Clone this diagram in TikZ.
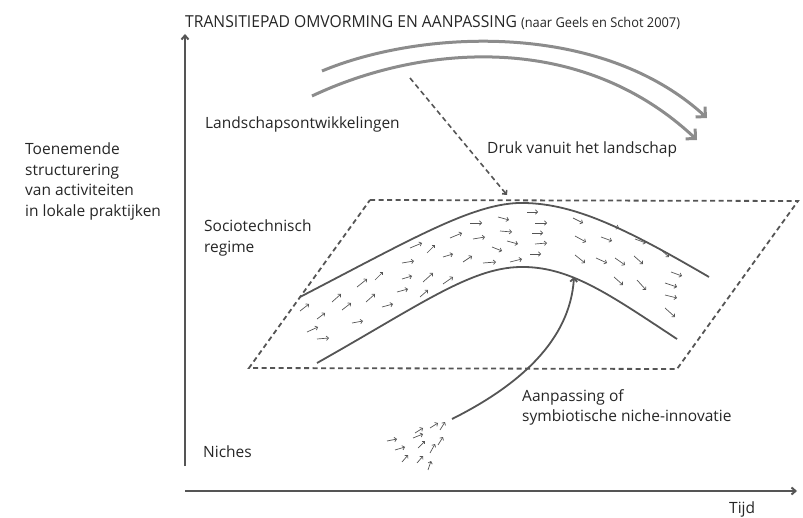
\documentclass[tikz,border=0pt]{standalone}
\usepackage{fontspec}
\setmainfont{Open Sans}
\newfontfamily\smalkop[FakeStretch=0.95]{Open Sans}
\usetikzlibrary{arrows.meta}
\definecolor{donker}{HTML}{555555}
\definecolor{grijs}{HTML}{8C8C8C}
\tikzset{
	as/.style={draw=donker, line width=2pt, -{Straight Barb[length=4pt,width=7pt]}},
	land/.style={draw=grijs, line width=3pt, -{Straight Barb[length=7pt,width=14pt]}},
	regimelijn/.style={draw=donker, line width=1.8pt},
	vlak/.style={draw=donker, line width=1.8pt, dash pattern=on 5pt off 3.5pt},
	pijltje/.style={draw=donker, line width=0.7pt, -{Straight Barb[length=2.2pt,width=4.4pt]}},
	tekst/.style={inner sep=0pt, text=black!85}
}
\begin{document}
\begin{tikzpicture}[x=1pt,y=-1pt,font=\fontsize{15.5}{20.5}\selectfont]
	\useasboundingbox (0,0) rectangle (803,518);
	
	%Titel
	\node[tekst,anchor=base west] (titel) at (185,28)
	{{\smalkop\fontsize{16.5}{18}\selectfont TRANSITIEPAD OMVORMING EN AANPASSING} {\smalkop\fontsize{13.5}{15}\selectfont(naar Geels en Schot 2007)}};
	
	%Assen
	\coordinate (ybodem) at (185,466);
	\coordinate (ytop) at (185,34);
	\coordinate (xbegin) at (185,491);
	\coordinate (xeind) at (797,491);
	\draw[as] (ybodem) -- (ytop);
	\draw[as] (xbegin) -- (xeind);
	\node[tekst,anchor=north west,align=left] (ylabel) at (25,143)
	{Toenemende\\structurering\\van activiteiten\\in lokale praktijken};
	\node[tekst,anchor=base west] (tijd) at (729,513) {Tijd};
	
	%Landschap
	\node[tekst,anchor=base west] (landschap) at (205,129) {Landschapsontwikkelingen};
	\node[tekst,anchor=base west] (druk) at (487,154) {Druk vanuit het landschap};
	\draw[land] (322,71) .. controls (420,30) and (600,20) .. (707,118);
	\draw[land] (312,96) .. controls (420,45) and (580,30) .. (697,140);
	\coordinate (drukbegin) at (410,78);
	\coordinate (drukeind) at (507,195);
	\draw[vlak,line width=1.6pt,-{Straight Barb[length=3pt,width=6pt]}] (drukbegin) -- (drukeind);
	
	%Regime
	\node[tekst,anchor=north west,align=left] (regime) at (204,220) {Sociotechnisch\\regime};
	\draw[vlak] (370,200) -- (798,201) -- (677,369) -- (249,368) -- cycle;
	\draw[regimelijn] (300,297) .. controls (410,240) and (470,205) .. (518,203)
	.. controls (570,202) and (620,225) .. (709,277);
	\draw[regimelijn] (317,363) .. controls (420,305) and (470,268) .. (520,267)
	.. controls (570,266) and (610,295) .. (677,339);
	\foreach \x/\y/\u/\v in {527/212/538/212, 470/223/482/223, 498/217/509/220, 535/223/547/223,
		500/231/512/232, 532/233/543/233, 450/238/462/233, 473/239/485/237, 507/241/518/244,
		535/244/547/243, 410/248/422/243, 427/253/435/245, 443/257/453/254, 492/247/502/251,
		530/254/541/254, 463/262/472/256, 483/263/496/262, 510/262/522/259, 402/263/414/261,
		357/287/367/279, 375/280/383/272, 402/279/412/276, 423/282/433/273, 443/284/453/277,
		397/292/408/289, 420/297/428/290, 332/302/341/294, 366/302/375/294, 342/310/351/303,
		382/307/393/304, 300/311/309/304, 317/319/325/313, 352/323/363/321, 307/332/318/327,
		317/339/329/338, 573/218/583/223, 608/224/619/228, 575/236/586/242, 601/237/612/241,
		635/239/646/243, 660/249/669/257, 575/255/585/263, 596/258/607/263, 615/258/625/265,
		634/256/643/264, 671/272/682/276, 614/277/623/285, 637/280/646/290, 665/283/677/287,
		665/295/677/298, 665/308/675/317}
	\draw[pijltje] (\x,\y) -- (\u,\v);
	
	%Niches
	\node[tekst,anchor=base west] (niches) at (203,457) {Niches};
	\node[tekst,anchor=north west,align=left] (aanpassing) at (522,389) {Aanpassing of\\symbiotische niche-innovatie};
	\foreach \x/\y/\u/\v in {387/441/397/439, 395/450/405/447, 402/462/408/455, 417/463/423/456,
		428/470/431/461, 413/438/423/434, 415/433/423/428, 418/448/425/441, 430/453/435/444,
		438/445/443/437, 430/428/438/423, 440/430/445/422}
	\draw[pijltje] (\x,\y) -- (\u,\v);
	\coordinate (nichebegin) at (452,419);
	\coordinate (nicheeind) at (574,277);
	\draw[regimelijn,-{Straight Barb[length=3.5pt,width=7pt]}] (nichebegin) .. controls (520,385) and (570,340) .. (nicheeind);
	
\end{tikzpicture}
\end{document}
